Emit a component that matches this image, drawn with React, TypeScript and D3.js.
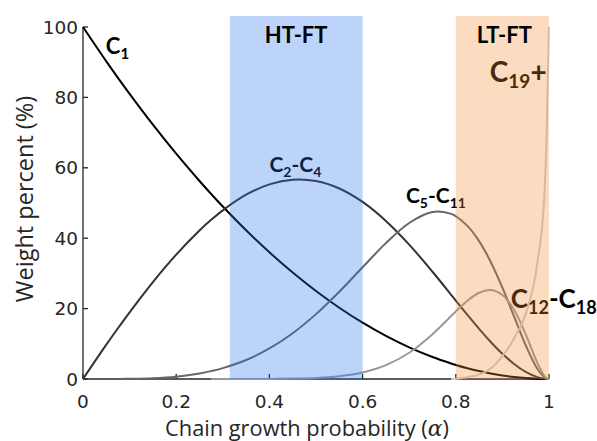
import React from 'react';
import * as d3 from 'd3';

// chain growth probability grid and weight percent of each product cut
const alphas = [0, 0.05, 0.08, 0.1, 0.15, 0.2, 0.25, 0.275, 0.3, 0.35, 0.4, 0.45, 0.5, 0.55, 0.6,
  0.65, 0.7, 0.75, 0.79, 0.8, 0.825, 0.85, 0.875, 0.9, 0.925, 0.95, 0.975, 0.99, 0.995, 1];

const c1 = [100, 90.25, 84.64, 81, 72.25, 64, 56.25, 52.56, 49, 42.25, 36, 30.25, 25, 20.25, 16,
  12.25, 9, 6.25, 4.41, 4, 3.06, 2.25, 1.56, 1, 0.56, 0.25, 0.06, 0.01, 0, 0];
const c2c4 = [0, 9.75, 15.34, 18.95, 27.53, 35.33, 42.19, 45.21, 47.92, 52.35, 55.3, 56.63, 56.25, 54.13, 50.3,
  44.91, 38.18, 30.47, 23.92, 22.27, 18.19, 14.23, 10.51, 7.15, 4.27, 2.01, 0.53, 0.09, 0.02, 0];
const c5c11 = [null, null, 0.02, 0.05, 0.22, 0.67, 1.56, 2.23, 3.08, 5.39, 8.67, 13.01, 18.43, 24.79, 31.74,
  38.6, 44.32, 47.44, 46.91, 46.24, 43.51, 39.17, 33.26, 25.95, 17.76, 9.58, 2.9, 0.52, 0.14, 0];
const c12c18 = [null, null, null, null, null, null, null, 0, 0, 0.01, 0.03, 0.11, 0.31, 0.81, 1.87,
  3.93, 7.46, 12.74, 17.89, 19.2, 22.24, 24.5, 25.29, 23.87, 19.66, 12.69, 4.58, 0.91, 0.22, 0];
const c19plus = [null, null, null, null, null, null, null, null, null, null, null, null, null, null, null,
  null, null, null, 0, 0.1, 0.5, 1.3, 3, 6.5, 11.5, 18.5, 33, 52, 70, 100];

const series = [c1, c2c4, c5c11, c12c18, c19plus];
const seriesColors = ['#000000', '#333333', '#666666', '#999999', '#cccccc'];

// shaded process windows
const regionNames = ['HT-FT', 'LT-FT'];
const regionFrom = [0.315, 0.8];
const regionTo = [0.6, 1.0];
const regionColors = ['rgb(35,112,238)', 'rgb(245,138,45)'];

const xTicks = [0, 0.2, 0.4, 0.6, 0.8, 1];
const yTicks = [0, 20, 40, 60, 80, 100];

const W = 597, H = 441;
const x = d3.scaleLinear().domain([0, 1]).range([83, 549]);
const y = d3.scaleLinear().domain([0, 100]).range([379, 27]);

const labelFont = 'Lato, "Open Sans", sans-serif';

function Label({ px, py, size, parts }) {
  const sub = Math.round(size * 0.68);
  return (
    <text x={px} y={py} fontFamily={labelFont} fontWeight={700} fontSize={size} fill="#000">
      {parts.map((p, i) => p.sub
        ? <tspan key={i} fontSize={sub} dy={size * 0.22}>{p.t}</tspan>
        : <tspan key={i} dy={i > 0 && parts[i - 1].sub ? -size * 0.22 : 0}>{p.t}</tspan>)}
    </text>
  );
}

export default function App() {
  const mono = d3.line()
    .defined(d => d[1] != null)
    .x(d => x(d[0]))
    .y(d => y(d[1]))
    .curve(d3.curveMonotoneX);
  const smooth = d3.line()
    .defined(d => d[1] != null)
    .x(d => x(d[0]))
    .y(d => y(d[1]))
    .curve(d3.curveCatmullRom.alpha(0.5));

  const axisColor = '#262626';
  const tickFont = '"DejaVu Sans", Verdana, sans-serif';

  return (
    <svg width={W} height={H} style={{ position: 'absolute', left: 0, top: 0, background: '#fff' }}>
      {/* axes */}
      <g stroke={axisColor} strokeWidth={1.3} fill="none">
        <line x1={x(0)} x2={x(1)} y1={y(0)} y2={y(0)} />
        <line x1={x(0)} x2={x(0)} y1={y(0)} y2={y(100)} />
        {xTicks.map(t => <line key={t} x1={x(t)} x2={x(t)} y1={y(0)} y2={y(0) - 5} />)}
        {yTicks.map(t => <line key={t} x1={x(0)} x2={x(0) + 5} y1={y(t)} y2={y(t)} />)}
      </g>
      <g fontFamily={tickFont} fontSize={18.5} fill={axisColor}>
        {xTicks.map(t => (
          <text key={t} x={x(t)} y={408} textAnchor="middle">{d3.format('~g')(t)}</text>
        ))}
        {yTicks.map(t => (
          <text key={t} x={78} y={y(t) + 6.6} textAnchor="end">{t}</text>
        ))}
      </g>
      <text x={307} y={436} textAnchor="middle" fontFamily='"Open Sans", sans-serif' fontSize={21.8} fill={axisColor}>
        Chain growth probability (<tspan fontStyle="italic" fontFamily='"DejaVu Serif", serif'>α</tspan>)
      </text>
      <text transform={`translate(33,${(y(0) + y(100)) / 2 - 4}) rotate(-90)`} textAnchor="middle"
        fontFamily='"Open Sans", sans-serif' fontSize={23.5} fill={axisColor}>
        Weight percent (%)
      </text>

      {/* curves; the C19+ one shoots up at the end so it keeps a monotone curve */}
      {series.map((s, i) => {
        const gen = i === series.length - 1 ? mono : smooth;
        return (
          <path key={i} d={gen(alphas.map((a, j) => [a, s[j]]))} fill="none"
            stroke={seriesColors[i]} strokeWidth={2} />
        );
      })}

      {/* curve labels (sit under the shading) */}
      <Label px={x(0.049)} py={54} size={22} parts={[{ t: 'C' }, { t: '1', sub: true }]} />
      <Label px={x(0.40)} py={172} size={21} parts={[{ t: 'C' }, { t: '2', sub: true }, { t: '-C' }, { t: '4', sub: true }]} />
      <Label px={x(0.693)} py={203} size={21} parts={[{ t: 'C' }, { t: '5', sub: true }, { t: '-C' }, { t: '11', sub: true }]} />
      <Label px={x(0.918)} py={308} size={26} parts={[{ t: 'C' }, { t: '12', sub: true }, { t: '-C' }, { t: '18', sub: true }]} />
      <Label px={x(0.873)} py={82} size={28} parts={[{ t: 'C' }, { t: '19', sub: true }, { t: '+' }]} />

      {/* shaded regions */}
      {regionNames.map((r, i) => (
        <rect key={r} x={x(regionFrom[i])} width={x(regionTo[i]) - x(regionFrom[i])}
          y={16} height={y(0) - 16} fill={regionColors[i]} fillOpacity={0.3} />
      ))}
      {regionNames.map((r, i) => (
        <text key={r} x={(x(regionFrom[i]) + x(regionTo[i])) / 2 + (i === 1 ? 2 : 0)} y={43} textAnchor="middle"
          fontFamily={labelFont} fontWeight={700} fontSize={22} fill="#000">{r}</text>
      ))}
    </svg>
  );
}
